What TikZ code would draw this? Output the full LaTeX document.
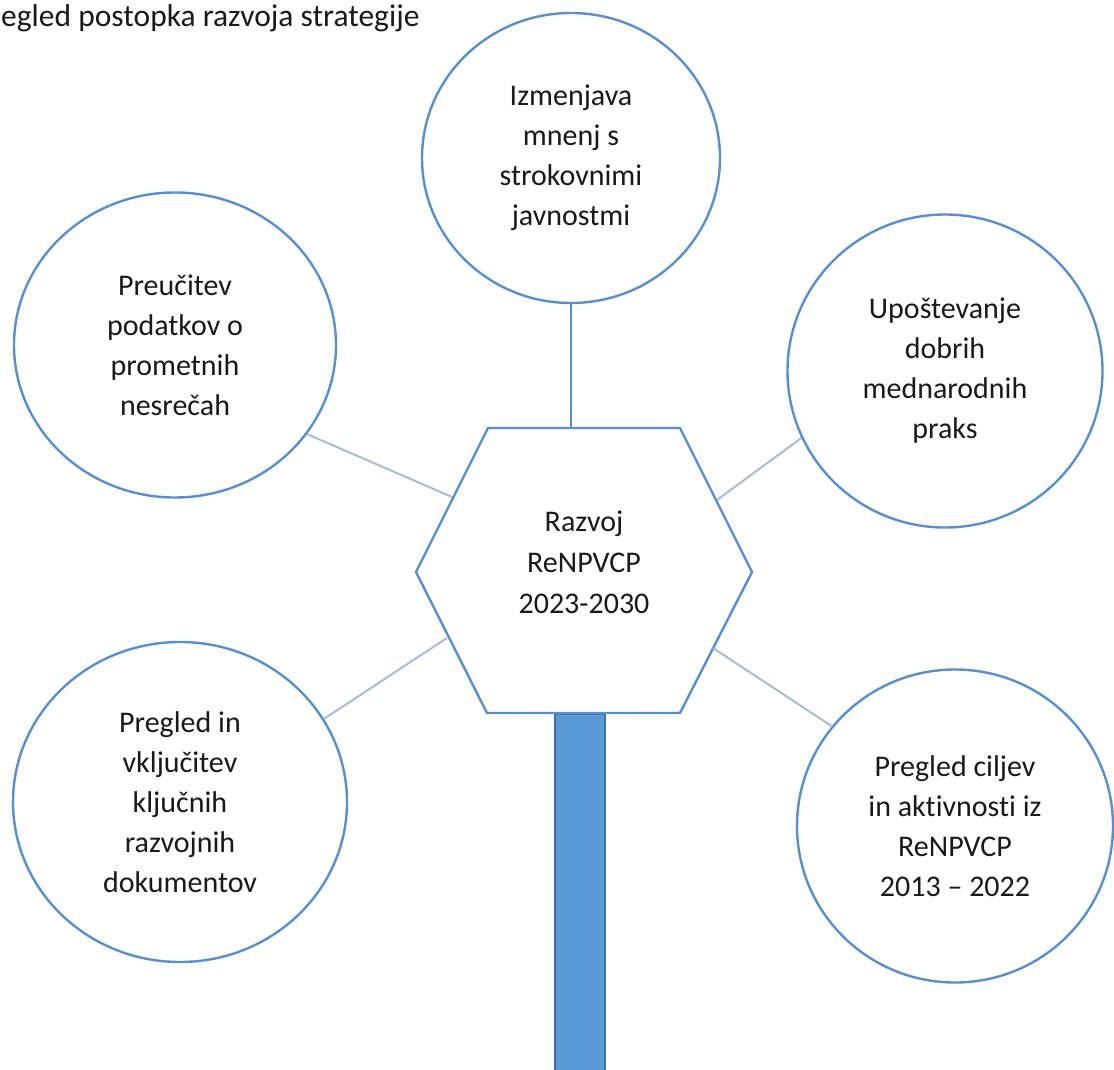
\documentclass[tikz,border=0pt]{standalone}
\usepackage{fontspec}
\setmainfont{Carlito}[Ligatures={NoCommon}]
\usetikzlibrary{shapes.geometric}
\definecolor{rim}{HTML}{5B8FCB}
\definecolor{linkc}{HTML}{A9BCD6}
\definecolor{stemfill}{HTML}{5B9BD5}
\definecolor{stemrim}{HTML}{41719C}
\definecolor{txt}{HTML}{1A1A1A}
\tikzset{
  bubble/.style={ellipse, draw=rim, line width=2.4pt, fill=white, inner sep=0pt,
    align=center, text=txt, font=\fontsize{30}{40}\selectfont},
  hexline/.style={draw=rim, line width=2.4pt, fill=white, line join=miter},
  hextext/.style={align=center, text=txt, font=\fontsize{30}{41}\selectfont},
  link/.style={draw=linkc, line width=2pt},
  toplink/.style={draw=rim, line width=2pt},
  stembar/.style={draw=stemrim, fill=stemfill, line width=1.5pt, minimum width=50pt,
    minimum height=360pt, inner sep=0pt},
  titletext/.style={text=txt, font=\fontsize{31.5}{36}\selectfont, inner sep=0pt}
}
\begin{document}
\begin{tikzpicture}[x=1pt,y=-1pt]
\useasboundingbox (0,0) rectangle (1114,1070);
% title
\node[titletext, anchor=base west] (title) at (1,27) {egled postopka razvoja strategije};
% stem
\node[stembar, anchor=north] (S) at (580,713) {};
% hexagon
\coordinate (h1) at (488,428);
\coordinate (h2) at (680,428);
\coordinate (h3) at (752,572);
\coordinate (h4) at (680,713);
\coordinate (h5) at (487,713);
\coordinate (h6) at (416,572);
\path[hexline] (h1) -- (h2) -- (h3) -- (h4) -- (h5) -- (h6) -- cycle;
\node[hextext] (C) at (584,562) {Razvoj\\ReNPVCP\\2023-2030};
% connector ends on the hexagon
\coordinate (eT) at (572,428);
\coordinate (eL) at (452,497);
\coordinate (eR) at (717,500);
\coordinate (eBL) at (447,638);
\coordinate (eBR) at (713,648);
% bubbles
\node[bubble, minimum width=298pt, minimum height=290pt] (T) at (571,158)
  {Izmenjava\\mnenj s\\strokovnimi\\javnostmi};
\node[bubble, minimum width=322pt, minimum height=305pt] (L) at (175,345)
  {Preučitev\\podatkov o\\prometnih\\nesrečah};
\node[bubble, minimum width=315pt, minimum height=313pt] (R) at (945,371)
  {Upoštevanje\\dobrih\\mednarodnih\\praks};
\node[bubble, minimum width=334pt, minimum height=320pt] (BL) at (180,802)
  {Pregled in\\vključitev\\ključnih\\razvojnih\\dokumentov};
\node[bubble, minimum width=316pt, minimum height=313pt] (BR) at (955,826)
  {Pregled ciljev\\in aktivnosti iz\\ReNPVCP\\2013 – 2022};
% connectors
\draw[toplink] (T.south) -- (T.south |- eT);
\draw[link] (L.-34) -- (eL);
\draw[link] (R.205) -- (eR);
\draw[link] (BL.30) -- (eBL);
\draw[link] (BR.141) -- (eBR);
\end{tikzpicture}
\end{document}
